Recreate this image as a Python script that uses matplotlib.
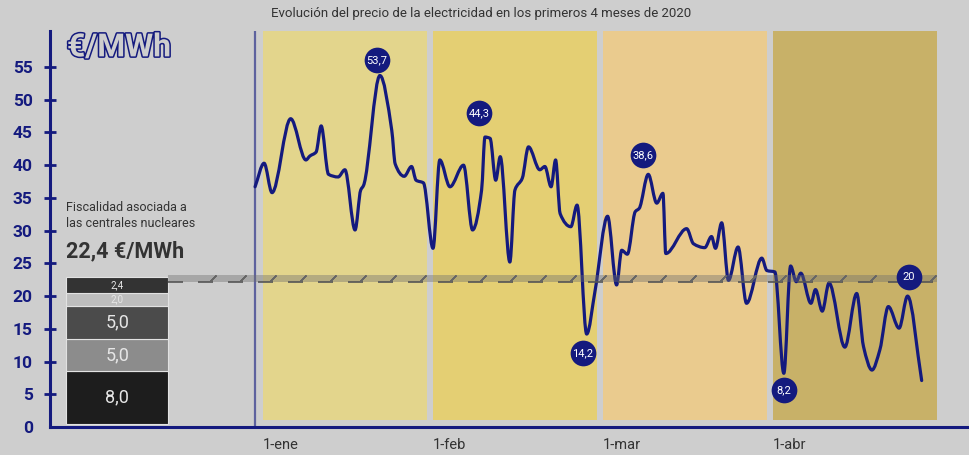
import numpy as np
import matplotlib
matplotlib.use('Agg')
import matplotlib.pyplot as plt
import matplotlib.patheffects as pe
from matplotlib.path import Path
from matplotlib.patches import PathPatch
from matplotlib.transforms import offset_copy

# precio diario (vertices), dias desde el 1-ene
dias = [0, 1.6, 3.0, 6.3, 9.0, 9.7, 10.8, 11.7, 13.0, 14.7, 15.9, 17.7, 18.7, 19.2,
        22.1, 24.2, 24.8, 26.4, 27.7, 28.5, 29.8, 31.5, 32.7, 34.5, 36.9, 38.5,
        40.1, 40.7, 41.6, 42.6, 43.4, 45.1, 46.0, 47.3, 48.4, 50.4, 51.3, 52.4,
        53.2, 54.0, 55.9, 57.0, 58.7, 60.2, 62.4, 64.0, 64.9, 65.9, 67.3, 68.0,
        69.6, 71.1, 72.2, 72.7, 76.4, 77.6, 79.6, 80.8, 81.5, 82.6, 83.8, 85.5,
        87.0, 89.7, 90.6, 92.0, 93.6, 94.8, 95.8, 96.6, 98.4, 99.2, 100.4, 101.6,
        104.4, 106.5, 107.7, 109.2, 110.6, 112.1, 114.0, 115.5, 118.0]
precio = [36.7, 40.3, 35.8, 47.1, 40.8, 41.4, 42.0, 46.0, 38.6, 38.2, 39.3, 30.1, 36.2, 36.9,
          53.7, 45.3, 40.2, 38.3, 39.8, 37.7, 37.3, 27.3, 40.8, 36.7, 40.0, 30.1,
          36.2, 44.3, 44.1, 37.7, 41.3, 25.2, 36.2, 38.0, 42.8, 39.3, 39.8, 36.7,
          40.8, 32.6, 30.6, 33.9, 14.2, 20.9, 32.2, 21.7, 27.0, 26.4, 32.9, 33.4,
          38.6, 34.2, 35.7, 26.5, 30.3, 28.0, 27.4, 29.1, 27.3, 31.2, 22.4, 27.5,
          18.9, 25.8, 23.9, 23.7, 8.2, 24.6, 22.2, 23.5, 18.9, 21.0, 17.7, 22.0,
          12.2, 20.4, 12.3, 8.7, 11.8, 18.4, 15.1, 20.0, 7.1]

# puntos destacados (indice en la serie) y su texto
destacados = [14, 27, 42, 50, 66, 81]
destacados_txt = ['53,7', '44,3', '14,2', '38,6', '8,2', '20']

meses = ['1-ene', '1-feb', '1-mar', '1-abr']
colores_mes = ['#e3d58c', '#e4cf73', '#eacb8e', '#c8b168']

fisc_valores = [8.0, 5.0, 5.0, 2.0, 2.4]
fisc_txt = ['8,0', '5,0', '5,0', '2,0', '2,4']
fisc_colores = ['#1d1d1d', '#8c8c8c', '#4b4b4b', '#bdbdbd', '#333333']
fisc_total = 22.4

navy = '#141a7e'
fondo = '#cecece'
gris_txt = '#333333'

plt.rcParams['font.family'] = ['Roboto', 'DejaVu Sans']

fig = plt.figure(figsize=(9.7, 4.55), dpi=100, facecolor=fondo)
ax = fig.add_axes([50/970, 28/455, 918/970, 396/455])
ax.set_facecolor(fondo)
ax.set_xlim(-36.3, 126.2)
ax.set_ylim(0, 60.5)

# bandas de los meses
paso = 30.09
ancho = 29.0
inicio = 1.42
for i, c in enumerate(colores_mes):
    x0 = inicio + i * paso
    ax.axvspan(x0, x0 + ancho, ymin=1.07/60.5, ymax=1, color=c, lw=0, zorder=1)

ax.axvline(0, color=navy, alpha=0.6, lw=1.6, zorder=2)

# curva suavizada sin sobreoscilacion (tangentes tipo pchip)
x = np.array(dias)
y = np.array(precio)
h = np.diff(x)
d = np.diff(y) / h
m = np.zeros_like(y)
m[0], m[-1] = d[0], d[-1]
for k in range(1, len(x) - 1):
    if d[k-1] * d[k] > 0:
        w1 = 2*h[k] + h[k-1]
        w2 = h[k] + 2*h[k-1]
        m[k] = (w1 + w2) / (w1/d[k-1] + w2/d[k])
verts = [(x[0], y[0])]
codes = [Path.MOVETO]
for i in range(len(x) - 1):
    verts += [(x[i] + h[i]/3, y[i] + m[i]*h[i]/3),
              (x[i+1] - h[i]/3, y[i+1] - m[i+1]*h[i]/3),
              (x[i+1], y[i+1])]
    codes += [Path.CURVE4] * 3
ax.add_patch(PathPatch(Path(verts, codes), fill=False, ec=navy, lw=2.3,
                       joinstyle='round', capstyle='round', zorder=4))

offs = [(-2, 11), (-4, 17), (-3, -14), (-4, 14), (0, -12), (1, 14)]
for k, t, o in zip(destacados, destacados_txt, offs):
    tr = offset_copy(ax.transData, fig=fig, x=o[0], y=o[1], units='points')
    ax.plot(dias[k], precio[k], 'o', ms=18.5, color=navy, mec='none',
            transform=tr, zorder=7)
    ax.text(dias[k], precio[k], t, transform=tr, ha='center', va='center',
            color='white', fontsize=8, zorder=8)

# barra apilada de fiscalidad
xb = -24.4
base = 0.5
for v, t, c in zip(fisc_valores, fisc_txt, fisc_colores):
    ax.bar(xb, v, width=18.05, bottom=base, color=c, edgecolor='#e2e2e2', lw=0.8, zorder=3)
    fs = 13 if v >= 5 else 7
    ax.text(xb, base + v/2, t, ha='center', va='center', color='#e6e6e6',
            fontsize=fs, zorder=4)
    base += v

# franja de referencia 22,4
x_ini, x_fin = -15.4, 120.7
ax.fill_between([x_ini, x_fin], fisc_total - 0.25, fisc_total + 0.75,
                color='#6e6e6e', alpha=0.4, lw=0, zorder=5)
ax.plot([x_ini, x_fin], [fisc_total - 0.2]*2, color='#555555', lw=1.2,
        ls=(0, (9, 9)), zorder=5)
xs = np.arange(-7.5, x_fin, 5.31)
ax.plot(xs, [fisc_total + 0.3]*len(xs), ls='none', marker=(2, 2, -45),
        ms=6, mec='#666666', mew=1, zorder=5)

ax.text(-33.45, 33.6, 'Fiscalidad asociada a', fontsize=9, color=gris_txt, va='center')
ax.text(-33.45, 31.1, 'las centrales nucleares', fontsize=9, color=gris_txt, va='center')
ax.text(-33.45, 26.9, '22,4 €/MWh', fontsize=15.5, fontweight='bold', color=gris_txt,
        va='center')

ax.text(-33.3, 58.0, '€/MWh', fontsize=23, fontweight='bold', color=fondo, va='center',
        path_effects=[pe.withStroke(linewidth=2.2, foreground=navy)])

# ejes
for s in ['top', 'right']:
    ax.spines[s].set_visible(False)
for s in ['left', 'bottom']:
    ax.spines[s].set_color(navy)
    ax.spines[s].set_linewidth(2.2)

ax.set_yticks(range(0, 60, 5))
ax.tick_params(axis='y', direction='inout', length=9, width=2, color=navy,
               pad=8, labelsize=12.5, labelcolor=navy)
for lab in ax.get_yticklabels():
    lab.set_fontweight('bold')
ax.yaxis.get_major_ticks()[0].tick1line.set_visible(False)

ax.set_xticks([inicio + i * paso for i in range(len(meses))])
ax.set_xticklabels(meses, ha='left')
ax.tick_params(axis='x', length=0, pad=8, labelsize=10.5, labelcolor=gris_txt)

fig.text(481/970, 1 - 14/455,
         'Evolución del precio de la electricidad en los primeros 4 meses de 2020',
         ha='center', va='center', fontsize=9.5, color=gris_txt)

fig.savefig('out.png', dpi=100, facecolor=fondo)
